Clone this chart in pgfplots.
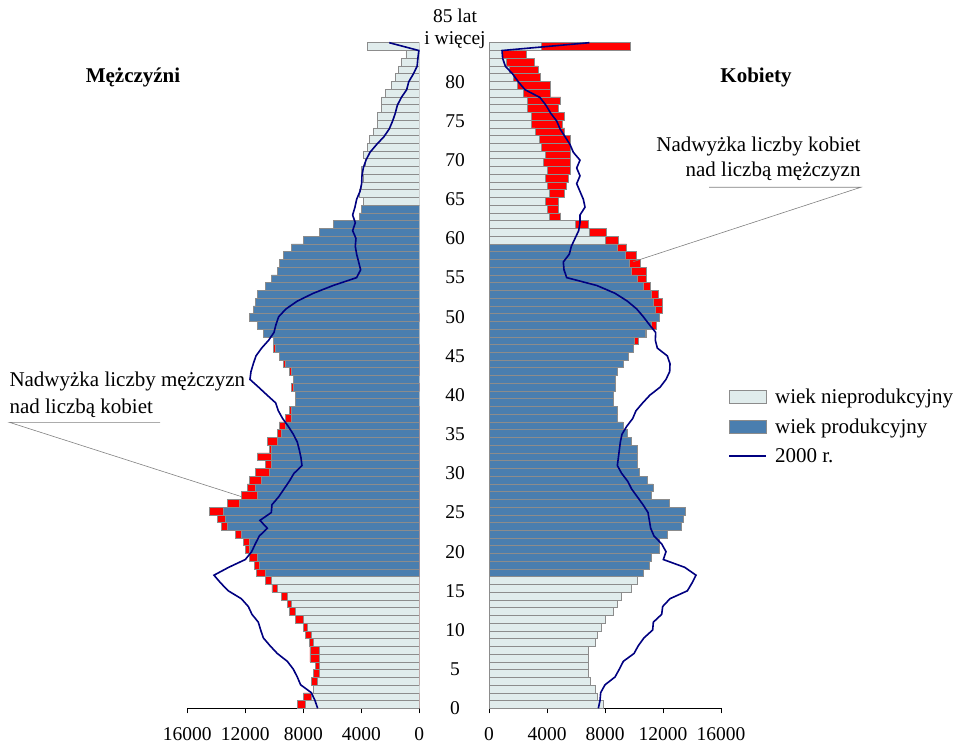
\documentclass[border=0pt]{standalone}
\usepackage{fontspec}
\setmainfont{Liberation Serif}
\usepackage{pgfplots}
\usepackage{pgfplotstable}
\pgfplotsset{compat=1.18}

\definecolor{nonprod}{HTML}{E0ECEC}
\definecolor{prod}{HTML}{4A7EAF}
\definecolor{edge}{HTML}{8C8C8C}
\definecolor{surplus}{HTML}{FF0000}
\definecolor{line2000}{HTML}{000080}

% M, F: current population by age; M2000, F2000: the 2000 curve
\pgfplotstableread{
age M     F     M2000 F2000
0   8400  7850  7011  7540
1   8000  7440  7195  7655
2   7300  7300  7448  7701
3   7448  7020  8184  8000
4   7310  6880  8414  8690
5   7172  6880  8690  8989
6   7540  6880  9103  9264
7   7540  6880  9793  10000
8   7586  7300  10299 10299
9   7862  7440  10759 10690
10  8000  7710  10940 11287
11  8552  7990  11103 11333
12  8966  8560  11540 11908
13  9101  8815  11793 11977
14  9515  9090  12276 12483
15  10161 9780  13172 13678
16  10621 10195 13697 14000
17  11262 10610 14159 14276
18  11400 11020 13150 13500
19  11724 11160 12000 12023
20  12000 11710 11563 12207
21  12138 11710 11310 11908
22  12690 12265 11034 11379
23  13655 13230 10483 11149
24  13931 13370 10989 11057
25  14483 13505 10207 10966
26  13241 12400 10161 10621
27  12276 11160 9701  10230
28  11862 11300 9333  9839
29  11724 10885 8966  9563
30  11310 10335 8644  9149
31  10621 10195 8092  8851
32  11172 10215 8160  8920
33  10345 10195 8276  8989
34  10483 9780  8414  9057
35  9793  9530  8690  9172
36  9655  9230  9034  9494
37  9241  8815  9423  9908
38  8966  8815  9724  10138
39  8560  8560  9905  10598
40  8550  8550  10500 11100
41  8828  8680  11080 11793
42  8700  8700  11678 12207
43  8966  8815  11609 12460
44  9379  9230  11448 12483
45  9650  9640  11264 12299
46  10069 9920  10874 11609
47  10050 10290 10391 11471
48  10750 10874 10023 11494
49  11160 11563 9885  11057
50  11720 11710 9701  10644
51  11440 11977 9195  10184
52  11300 11977 8414  9540
53  11160 11701 7310  8690
54  10610 11149 5931  7425
55  10195 10874 4322  5356
56  9780  10874 4046  5172
57  9645  10460 4184  5126
58  9368  10184 4322  5540
59  8816  9494  4414  5678
60  7990  8943  4368  5931
61  6885  8115  4598  6184
62  5920  6874  4414  6276
63  4127  4943  4598  6276
64  3990  4805  4437  6621
65  3850  4805  4322  6506
66  4127  5218  4092  6276
67  3990  5356  3977  6046
68  3850  5494  3954  6276
69  3990  5632  3862  6046
70  3750  5632  3678  6276
71  3850  5632  3402  5816
72  3575  5632  2943  5586
73  3437  5632  2437  5241
74  3160  5218  2069  4897
75  2885  5080  1839  4667
76  2885  5218  1655  4253
77  2610  4805  1517  3931
78  2610  4943  1241  3517
79  2334  4207  870   2483
80  1943  4207  731   2023
81  1654  3563  414   1632
82  1424  3379  150   1126
83  1217  3103  100   943
84  930   2552  30    897
85  3575  9770  2069  6920
}\pyramid

\newcommand{\txt}{\fontsize{21}{25}\selectfont}
\newcommand{\tck}{\fontsize{19.5}{22}\selectfont}

\pgfplotsset{
  pyrbars/.style={
    scale only axis, width=232pt, height=665.6pt,
    xmin=0, xmax=16000, ymin=-0.5, ymax=85.5,
    axis x line*=bottom, axis y line=none,
    xtick={0,4000,8000,12000,16000},
    scaled x ticks=false,
    xtick align=outside, major tick length=5pt,
    tick style={black, line width=0.6pt},
    axis line style={black, line width=0.6pt},
    /pgf/number format/1000 sep={},
    /pgf/number format/assume math mode=true,
    xticklabel style={font=\tck, yshift=-11pt},
    xbar, bar width=1, bar shift=0pt,
    every axis plot/.append style={draw=edge, line width=0.6pt},
  },
  pyrline/.style={
    scale only axis, width=232pt, height=665.6pt,
    xmin=0, xmax=16000, ymin=0, ymax=85,
    clip=false,
  },
}

\begin{document}
\begin{tikzpicture}
\path[use as bounding box] (0pt,0pt) rectangle (957pt,745pt);

% ---- men
\begin{axis}[pyrbars, at={(187.3pt,36.7pt)}, anchor=south west, x dir=reverse]
  \addplot[fill=surplus, x filter/.expression={\thisrow{M}>\thisrow{F} ? x : nan}]
    table[x=M, y=age] {\pyramid};
  \addplot[fill=nonprod, restrict y to domain=0:16]
    table[x expr={min(\thisrow{M},\thisrow{F})}, y=age] {\pyramid};
  \addplot[fill=prod, restrict y to domain=17:64]
    table[x expr={min(\thisrow{M},\thisrow{F})}, y=age] {\pyramid};
  \addplot[fill=nonprod, restrict y to domain=65:85]
    table[x expr={min(\thisrow{M},\thisrow{F})}, y=age] {\pyramid};
\end{axis}
\begin{axis}[pyrline, at={(187.3pt,36.7pt)}, anchor=south west, x dir=reverse, hide axis]
  \addplot[line2000, line width=1.6pt] table[x=M2000, y=age] {\pyramid};
\end{axis}

% ---- women
\begin{axis}[pyrbars, at={(489pt,36.7pt)}, anchor=south west]
  \addplot[fill=surplus, x filter/.expression={\thisrow{F}>\thisrow{M} ? x : nan}]
    table[x=F, y=age] {\pyramid};
  \addplot[fill=nonprod, restrict y to domain=0:16]
    table[x expr={min(\thisrow{M},\thisrow{F})}, y=age] {\pyramid};
  \addplot[fill=prod, restrict y to domain=17:59]
    table[x expr={min(\thisrow{M},\thisrow{F})}, y=age] {\pyramid};
  \addplot[fill=nonprod, restrict y to domain=60:85]
    table[x expr={min(\thisrow{M},\thisrow{F})}, y=age] {\pyramid};
\end{axis}
\begin{axis}[pyrline, at={(489pt,36.7pt)}, anchor=south west,
    axis line style={draw=none}, tick style={draw=none},
    xtick=\empty, ytick={0,5,...,80},
    yticklabel style={anchor=center, xshift=-34pt, font=\tck},
    /pgf/number format/assume math mode=true,
    legend style={at={(1.0315,0.4827)}, anchor=north west, draw=none, fill=none,
      inner sep=0pt, font=\txt, row sep=9.5pt, column sep=6pt,
      nodes={inner sep=2pt}, cells={anchor=west}},
    legend cell align=left]
  \addlegendimage{legend image code/.code={\draw[fill=nonprod, draw=edge, line width=0.6pt] (0pt,-6.5pt) rectangle (37pt,6.5pt);}}
  \addlegendentry{wiek nieprodukcyjny}
  \addlegendimage{legend image code/.code={\draw[fill=prod, draw=edge, line width=0.6pt] (0pt,-6.5pt) rectangle (37pt,6.5pt);}}
  \addlegendentry{wiek produkcyjny}
  \addplot[line2000, line width=1.6pt,
    legend image code/.code={\draw[line2000, line width=1.6pt] (0pt,0pt) -- (37pt,0pt);}]
    table[x=F2000, y=age] {\pyramid};
  \addlegendentry{2000 r.}
\end{axis}

% ---- texts
\node[font=\fontsize{19.5}{22}\selectfont, align=center] at (455pt,716pt) {85 lat\\i więcej};
\node[font=\bfseries\txt] at (133pt,668pt) {Mężczyźni};
\node[font=\bfseries\txt] at (756pt,668pt) {Kobiety};

\node[anchor=base east, inner sep=0pt, font=\txt] at (860.7pt,593.3pt) {Nadwyżka liczby kobiet};
\node[anchor=base east, inner sep=0pt, font=\txt] at (860.7pt,568.3pt) {nad liczbą mężczyzn};
\draw[gray, line width=0.6pt] (709pt,557.7pt) -- (860.7pt,557.7pt) -- (633.3pt,483.3pt);

\node[anchor=base west, inner sep=0pt, font=\txt] at (9.3pt,358.3pt) {Nadwyżka liczby mężczyzn};
\node[anchor=base west, inner sep=0pt, font=\txt] at (9.3pt,331.7pt) {nad liczbą kobiet};
\draw[gray, line width=0.6pt] (160pt,322.7pt) -- (9.3pt,322.7pt) -- (241.7pt,248.3pt);
\end{tikzpicture}
\end{document}
